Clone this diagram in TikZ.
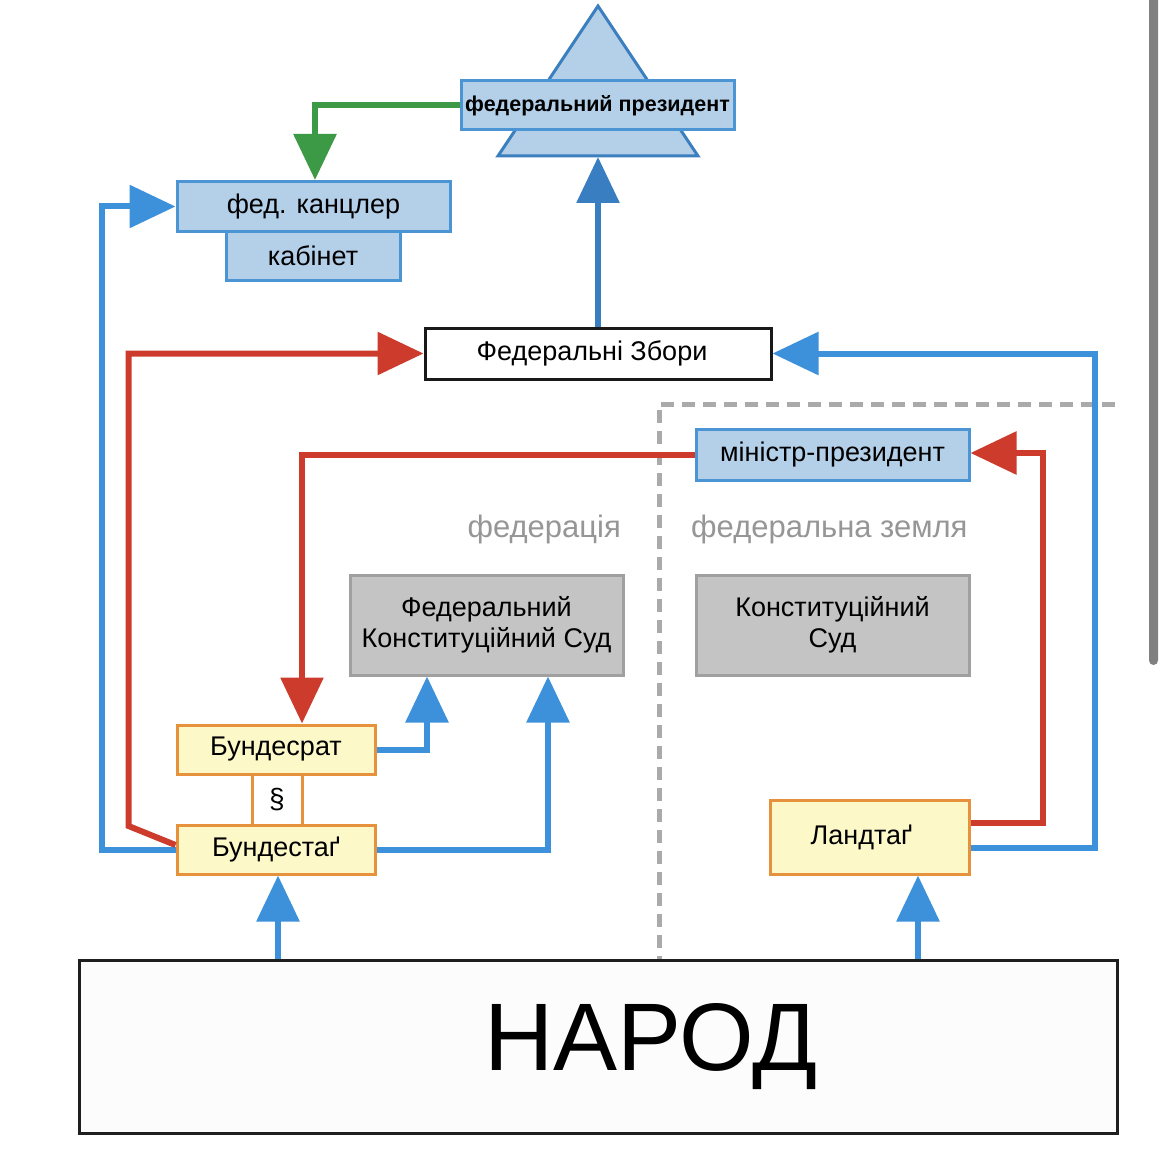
\documentclass[tikz,border=0pt]{standalone}
\usepackage{fontspec}
\setmainfont{Liberation Sans}
\usetikzlibrary{arrows.meta}
\definecolor{cblue}{RGB}{61,145,218}
\definecolor{cdblue}{RGB}{56,126,192}
\definecolor{cred}{RGB}{204,59,44}
\definecolor{cgreen}{RGB}{60,154,70}
\definecolor{bfill}{RGB}{180,207,232}
\definecolor{bdraw}{RGB}{76,149,212}
\definecolor{tdraw}{RGB}{60,127,190}
\definecolor{yfill}{RGB}{253,248,200}
\definecolor{odraw}{RGB}{230,145,60}
\definecolor{gfill}{RGB}{196,196,196}
\definecolor{gdraw}{RGB}{160,160,160}
\definecolor{ltext}{RGB}{150,150,150}
\definecolor{dashc}{RGB}{170,170,170}
\definecolor{scroll}{RGB}{128,128,128}
\begin{document}
\begin{tikzpicture}[x=1pt,y=-1pt,
  box/.style={rectangle,inner sep=0pt,line width=3pt,align=center,font=\fontsize{27}{31}\selectfont},
  bluebox/.style={box,fill=bfill,draw=bdraw},
  yelbox/.style={box,fill=yfill,draw=odraw},
  greybox/.style={box,fill=gfill,draw=gdraw},
  whitebox/.style={box,fill=white,draw=black!90},
  conn/.style={line width=6pt,-{Triangle[length=46pt,width=42pt]}},
  bluearrow/.style={conn,draw=cblue},
  dbluearrow/.style={conn,draw=cdblue},
  redarrow/.style={conn,draw=cred},
  greenarrow/.style={conn,draw=cgreen},
  region/.style={text=ltext,font=\fontsize{31}{36}\selectfont,inner sep=0pt}
]
\useasboundingbox (0,0) rectangle (1167,1161);
\fill[white] (0,0) rectangle (1167,1161);
% scrollbar
\fill[scroll,rounded corners=4.5pt] (1149,-6) rectangle (1158,665);
% region divider
\draw[dashc,line width=5pt,dash pattern=on 13pt off 8pt] (1115,404) -- (659,404) -- (659,960);
% triangle of the president
\filldraw[fill=bfill,draw=tdraw,line width=3pt,line join=miter] (598,6) -- (698,156) -- (498,156) -- cycle;
\coordinate (trib) at (598,157);
% nodes
\node[bluebox,minimum width=273pt,minimum height=49pt,font=\bfseries\fontsize{21.5}{26}\selectfont] (praes) at (597.5,105.5) {федеральний президент};
\node[bluebox,minimum width=174pt,minimum height=49pt] (kab) at (313,256) {кабінет};
\node[bluebox,minimum width=273pt,minimum height=50pt] (kanz) at (313.5,206.5) {фед. канцлер};
\node[whitebox,minimum width=346pt,minimum height=51pt] (bv) at (598,353.5) {Федеральні Збори\hspace{12pt}};
\node[bluebox,minimum width=273pt,minimum height=51pt] (mp) at (832.5,454.5) {міністр-президент};
\node[region,anchor=east] (fed) at (621,529) {федерація};
\node[region,anchor=west] (land) at (691,529) {федеральна земля};
\node[greybox,minimum width=273pt,minimum height=100pt] (bverfg) at (486.5,625) {Федеральний\\Конституційний Суд};
\node[greybox,minimum width=273pt,minimum height=100pt] (lverfg) at (832.5,625) {Конституційний\\Суд};
\node[yelbox,minimum width=198pt,minimum height=49pt] (brat) at (276,749.5) {Бундесрат};
\node[yelbox,fill=white,minimum width=50pt,minimum height=51pt,font=\fontsize{28}{30}\selectfont] (para) at (277,799.5) {§};
\node[yelbox,minimum width=198pt,minimum height=49pt] (btag) at (276,849.5) {Бундестаґ};
\node[yelbox,minimum width=199pt,minimum height=74pt,text width=199pt,align=center] (ltag) at (869.5,837) {\raisebox{4pt}{Ландтаґ\hspace{16pt}}};
\node[box,draw=black!88,fill=black!1,minimum width=1038pt,minimum height=173pt] (volk) at (598,1046.5) {};
\node[inner sep=0pt,font=\fontsize{96}{100}\selectfont] (volktext) at (651,1047) {НАРОД};
% connectors
\draw[dbluearrow] (bv.north) -- (trib);
\draw[greenarrow] (praes.west) -| ([xshift=1.5pt]kanz.north);
\draw[bluearrow] (btag.west) -- ++(-74,0) |- (kanz.west);
\draw[redarrow] ([yshift=4.5pt]btag.west) -- ++(-47,-19) |- (bv.west);
\draw[bluearrow] ([yshift=-11pt]ltag.east) -- ++(124,0) |- (bv.east);
\draw[redarrow] ([yshift=14pt]ltag.east) -- ++(72,0) |- ([yshift=1.5pt]mp.east);
\draw[redarrow] (mp.west) -| ([xshift=26pt]brat.north);
\draw[bluearrow] (brat.east) -| ([xshift=-59.5pt]bverfg.south);
\draw[bluearrow] (btag.east) -| ([xshift=61.5pt]bverfg.south);
\path ([xshift=2pt]btag.south) coordinate (bts);
\path ([xshift=48.5pt]ltag.south) coordinate (lts);
\draw[bluearrow] (volk.north -| bts) -- (bts);
\draw[bluearrow] (volk.north -| lts) -- (lts);
\end{tikzpicture}
\end{document}
